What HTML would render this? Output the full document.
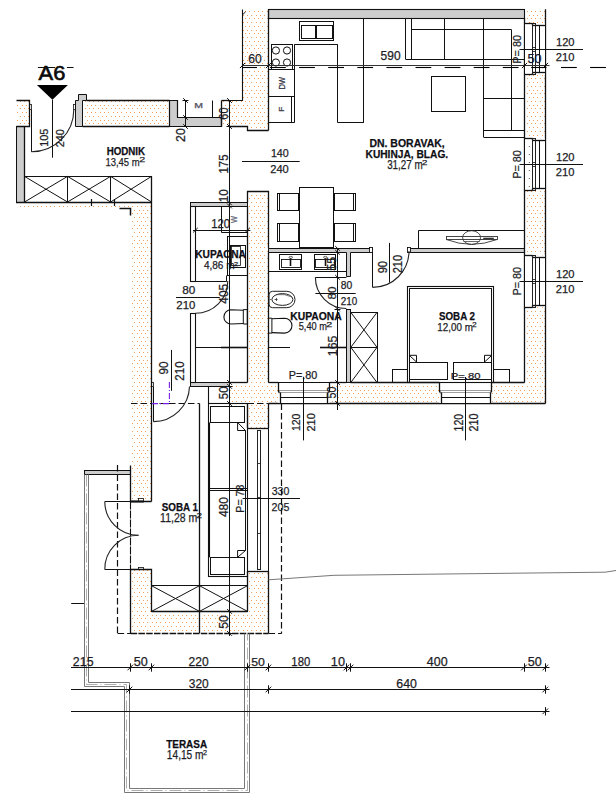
<!DOCTYPE html><html><head><meta charset="utf-8"><title>Floor plan</title>
<style>html,body{margin:0;padding:0;background:#fff;}svg{display:block}text{font-family:"Liberation Sans",sans-serif;}</style></head><body>
<svg width="616" height="802" viewBox="0 0 616 802">
<defs><pattern id="dots" x="0" y="0" width="13" height="15" patternUnits="userSpaceOnUse"><rect x="2" y="3" width="1" height="1" fill="#f4a05a"/><rect x="7" y="3" width="1" height="1" fill="#f4a05a"/><rect x="11" y="3" width="1" height="1" fill="#f4a05a"/><rect x="2" y="11" width="1" height="1" fill="#f4a05a"/><rect x="7" y="11" width="1" height="1" fill="#f4a05a"/><rect x="11" y="11" width="1" height="1" fill="#f4a05a"/><rect x="0" y="0" width="1" height="1" fill="#f4a05a"/><rect x="4" y="0" width="1" height="1" fill="#f4a05a"/><rect x="9" y="0" width="1" height="1" fill="#f4a05a"/><rect x="0" y="7" width="1" height="1" fill="#f4a05a"/><rect x="4" y="7" width="1" height="1" fill="#f4a05a"/><rect x="9" y="7" width="1" height="1" fill="#f4a05a"/></pattern></defs>
<rect x="0" y="0" width="616" height="802" fill="#fff"/>
<rect x="16.5" y="100.5" width="13.0" height="26.0" fill="url(#dots)"/>
<rect x="82.5" y="100.5" width="87.0" height="26.0" fill="url(#dots)"/>
<rect x="221.5" y="100.5" width="8.0" height="26.0" fill="url(#dots)"/>
<polygon points="242.5,10 268.5,10 268.5,130.5 247.5,130.5 247.5,126.5 229.5,126.5 229.5,100.5 242.5,100.5" fill="url(#dots)"/>
<rect x="17" y="203" width="114" height="5.5" fill="url(#dots)"/>
<rect x="131" y="203" width="20.5" height="298.5" fill="url(#dots)"/>
<rect x="131" y="569.6" width="20.5" height="63.6" fill="url(#dots)"/>
<rect x="131" y="611.4" width="137.5" height="21.8" fill="url(#dots)"/>
<rect x="247.5" y="191.5" width="21.0" height="236.5" fill="url(#dots)"/>
<rect x="247.5" y="571" width="21.0" height="62.2" fill="url(#dots)"/>
<rect x="229.5" y="386" width="18.0" height="17.5" fill="url(#dots)"/>
<rect x="268.5" y="382.5" width="9.9" height="21.0" fill="url(#dots)"/>
<rect x="329.4" y="382.5" width="110.1" height="21.0" fill="url(#dots)"/>
<rect x="491.4" y="382.5" width="54.1" height="21.0" fill="url(#dots)"/>
<rect x="524.5" y="10" width="21.0" height="14" fill="url(#dots)"/>
<rect x="524.5" y="74" width="21.0" height="65" fill="url(#dots)"/>
<rect x="524.5" y="190" width="21.0" height="66" fill="url(#dots)"/>
<rect x="524.5" y="306" width="21.0" height="77" fill="url(#dots)"/>
<rect x="268.5" y="9.5" width="256.0" height="9.0" stroke="#111" stroke-width="1.1" fill="#cdcdcd" />
<rect x="190.5" y="202.5" width="57.0" height="4.0" stroke="#111" stroke-width="1" fill="#cdcdcd" />
<polygon points="268.5,248.5 372.5,248.5 372.5,252.5 350.5,252.5 350.5,276.5 346.5,276.5 346.5,252.5 268.5,252.5" stroke="#111" stroke-width="1" fill="#cdcdcd" />
<rect x="408.5" y="248.5" width="116.0" height="4.0" stroke="#111" stroke-width="1" fill="#cdcdcd" />
<rect x="346.5" y="309.5" width="4.0" height="73.0" stroke="#111" stroke-width="1" fill="#cdcdcd" />
<rect x="190.5" y="382.5" width="39.0" height="4.0" stroke="#111" stroke-width="1" fill="#cdcdcd" />
<rect x="16.5" y="126.5" width="8.0" height="76.0" stroke="#111" stroke-width="1" fill="#cdcdcd" />
<rect x="84.5" y="470.5" width="46.0" height="4.0" stroke="#111" stroke-width="1" fill="#cdcdcd" />
<polygon points="169.5,100.5 177.5,100.5 177.5,117.5 221.5,117.5 221.5,126.5 169.5,126.5" stroke="#111" stroke-width="1.2" fill="#cdcdcd" />
<polygon points="78.5,94.5 86.5,94.5 86.5,100.5 82.5,100.5 82.5,126.5 75.5,126.5 75.5,100.5 78.5,100.5" stroke="#111" stroke-width="1" fill="#cdcdcd" />
<rect x="369.5" y="247.5" width="3.0" height="5.0" stroke="#111" stroke-width="0.9" fill="#fff" />
<rect x="407.5" y="247.5" width="3.0" height="5.0" stroke="#111" stroke-width="0.9" fill="#fff" />
<polyline points="16.5,100.5 29.5,100.5 29.5,126.5 16.5,126.5" stroke="#111" stroke-width="1.3" fill="none" />
<line x1="86.5" y1="100.5" x2="169.5" y2="100.5" stroke="#111" stroke-width="1.3" />
<line x1="82.5" y1="126.5" x2="169.5" y2="126.5" stroke="#111" stroke-width="1.3" />
<line x1="221.5" y1="100.5" x2="221.5" y2="126.5" stroke="#111" stroke-width="1.3" />
<line x1="221.5" y1="100.5" x2="229.5" y2="100.5" stroke="#111" stroke-width="1.3" />
<polyline points="242.5,9.5 242.5,100.5 229.5,100.5" stroke="#111" stroke-width="1.1" fill="none" />
<line x1="242.5" y1="14.8" x2="245.6" y2="11.8" stroke="#111" stroke-width="1" />
<polyline points="229.5,126.5 247.5,126.5 247.5,130.5 268.5,130.5" stroke="#111" stroke-width="1.3" fill="none" />
<line x1="268.5" y1="9.5" x2="268.5" y2="130.5" stroke="#111" stroke-width="1.3" />
<line x1="16" y1="202.5" x2="152" y2="202.5" stroke="#111" stroke-width="1.3" />
<rect x="24.5" y="176.5" width="43.0" height="26.0" stroke="#111" stroke-width="1" fill="none" />
<line x1="24.5" y1="176.4" x2="67.5" y2="202" stroke="#111" stroke-width="1" />
<line x1="24.5" y1="202" x2="67.5" y2="176.4" stroke="#111" stroke-width="1" />
<rect x="67.5" y="176.5" width="43.0" height="26.0" stroke="#111" stroke-width="1" fill="none" />
<line x1="67.5" y1="176.4" x2="110.6" y2="202" stroke="#111" stroke-width="1" />
<line x1="67.5" y1="202" x2="110.6" y2="176.4" stroke="#111" stroke-width="1" />
<rect x="110.5" y="176.5" width="41.0" height="26.0" stroke="#111" stroke-width="1" fill="none" />
<line x1="110.6" y1="176.4" x2="151.5" y2="202" stroke="#111" stroke-width="1" />
<line x1="110.6" y1="202" x2="151.5" y2="176.4" stroke="#111" stroke-width="1" />
<line x1="24.5" y1="126.5" x2="24.5" y2="202" stroke="#111" stroke-width="1.3" />
<polyline points="119.5,208.5 130.5,208.5 130.5,215.5" stroke="#111" stroke-width="1.5" fill="none" />
<line x1="91.5" y1="199" x2="91.5" y2="206" stroke="#111" stroke-width="1.2" />
<line x1="114.5" y1="199" x2="114.5" y2="206" stroke="#111" stroke-width="1.2" />
<line x1="151.5" y1="176.4" x2="151.5" y2="501.5" stroke="#111" stroke-width="1.3" />
<polyline points="130.5,465.5 130.5,501.5 151.5,501.5" stroke="#111" stroke-width="1.3" fill="none" />
<line x1="130.5" y1="501.5" x2="130.5" y2="569.6" stroke="#111" stroke-width="1.1" stroke-dasharray="8,1"/>
<line x1="130.6" y1="501.5" x2="143.9" y2="501.5" stroke="#111" stroke-width="2" />
<polyline points="130.5,633.5 130.5,569.5 151.5,569.5 151.5,611.5" stroke="#111" stroke-width="1.3" fill="none" />
<rect x="138.5" y="498.5" width="5.0" height="3.0" stroke="#111" stroke-width="0.8" fill="none" />
<rect x="138.5" y="567.5" width="5.0" height="2.0" stroke="#111" stroke-width="0.8" fill="none" />
<polyline points="247.5,202.5 247.5,191.5 268.5,191.5 268.5,248.5" stroke="#111" stroke-width="1.3" fill="none" />
<line x1="247.5" y1="206" x2="247.5" y2="382.5" stroke="#111" stroke-width="1.3" />
<line x1="268.5" y1="252.3" x2="268.5" y2="382.5" stroke="#111" stroke-width="1.3" />
<line x1="247.5" y1="403.5" x2="247.5" y2="428" stroke="#111" stroke-width="1.3" />
<line x1="268.5" y1="403.5" x2="268.5" y2="428" stroke="#111" stroke-width="1.3" />
<line x1="247.5" y1="571" x2="247.5" y2="611.4" stroke="#111" stroke-width="1.3" />
<line x1="268.5" y1="571" x2="268.5" y2="633.2" stroke="#111" stroke-width="1.3" />
<line x1="247.5" y1="428.5" x2="268.5" y2="428.5" stroke="#111" stroke-width="1.3" />
<line x1="247.5" y1="571.5" x2="268.5" y2="571.5" stroke="#111" stroke-width="1.3" />
<line x1="247.5" y1="428" x2="247.5" y2="571" stroke="#111" stroke-width="1" />
<line x1="268.5" y1="428" x2="268.5" y2="571" stroke="#111" stroke-width="1" />
<rect x="257.5" y="430.5" width="3.0" height="139.0" stroke="#222" stroke-width="1" fill="none" />
<line x1="257.6" y1="463.5" x2="260.2" y2="463.5" stroke="#111" stroke-width="0.8" />
<line x1="257.6" y1="497.5" x2="260.2" y2="497.5" stroke="#111" stroke-width="0.8" />
<line x1="257.6" y1="533.5" x2="260.2" y2="533.5" stroke="#111" stroke-width="0.8" />
<line x1="151.5" y1="611.5" x2="247.5" y2="611.5" stroke="#111" stroke-width="1.3" />
<line x1="130.6" y1="633.5" x2="268.5" y2="633.5" stroke="#111" stroke-width="1.3" stroke-dasharray="6.5,1.3"/>
<line x1="199.5" y1="403.5" x2="199.5" y2="633.2" stroke="#111" stroke-width="1.3" />
<line x1="229.5" y1="382.5" x2="247.5" y2="382.5" stroke="#111" stroke-width="1.3" />
<line x1="268.5" y1="382.5" x2="278.4" y2="382.5" stroke="#111" stroke-width="1.3" />
<line x1="268.5" y1="382.5" x2="346.4" y2="382.5" stroke="#111" stroke-width="1" />
<line x1="329.4" y1="382.5" x2="346.4" y2="382.5" stroke="#111" stroke-width="1.3" />
<line x1="350.5" y1="382.5" x2="439.5" y2="382.5" stroke="#111" stroke-width="1.3" />
<line x1="491.4" y1="382.5" x2="524.5" y2="382.5" stroke="#111" stroke-width="1.3" />
<line x1="268.5" y1="403.5" x2="545.5" y2="403.5" stroke="#111" stroke-width="1.3" />
<line x1="131" y1="403.5" x2="199.5" y2="403.5" stroke="#111" stroke-width="1.2" stroke-dasharray="6.5,3"/>
<line x1="247.5" y1="403.5" x2="268.5" y2="403.5" stroke="#111" stroke-width="1.2" stroke-dasharray="6.5,3"/>
<line x1="545.5" y1="9.2" x2="545.5" y2="403.5" stroke="#111" stroke-width="1.3" />
<line x1="524.5" y1="18.3" x2="524.5" y2="382.5" stroke="#111" stroke-width="1.3" />
<rect x="525" y="23.5" width="20" height="51.3" fill="#fff"/>
<line x1="524.5" y1="23.5" x2="532.8" y2="23.5" stroke="#111" stroke-width="1.3" />
<line x1="532.5" y1="23.5" x2="532.5" y2="25.5" stroke="#111" stroke-width="1.3" />
<line x1="532.8" y1="25.5" x2="545.5" y2="25.5" stroke="#111" stroke-width="1.3" />
<line x1="524.5" y1="74.5" x2="532.8" y2="74.5" stroke="#111" stroke-width="1.3" />
<line x1="532.5" y1="74.8" x2="532.5" y2="72.8" stroke="#111" stroke-width="1.3" />
<line x1="532.8" y1="72.5" x2="545.5" y2="72.5" stroke="#111" stroke-width="1.3" />
<rect x="532.5" y="23.5" width="3.0" height="51.0" stroke="#222" stroke-width="1" fill="none" />
<line x1="532.6" y1="47.5" x2="535.3" y2="47.5" stroke="#111" stroke-width="0.8" />
<line x1="532.6" y1="51.5" x2="535.3" y2="51.5" stroke="#111" stroke-width="0.8" />
<line x1="539.5" y1="25.5" x2="539.5" y2="72.8" stroke="#111" stroke-width="1" />
<line x1="524.5" y1="23.5" x2="524.5" y2="74.8" stroke="#111" stroke-width="1" />
<line x1="545.5" y1="23.5" x2="545.5" y2="74.8" stroke="#111" stroke-width="1" />
<rect x="525" y="138.2" width="20" height="52.3" fill="#fff"/>
<line x1="524.5" y1="138.5" x2="532.8" y2="138.5" stroke="#111" stroke-width="1.3" />
<line x1="532.5" y1="138.2" x2="532.5" y2="140.2" stroke="#111" stroke-width="1.3" />
<line x1="532.8" y1="140.5" x2="545.5" y2="140.5" stroke="#111" stroke-width="1.3" />
<line x1="524.5" y1="190.5" x2="532.8" y2="190.5" stroke="#111" stroke-width="1.3" />
<line x1="532.5" y1="190.5" x2="532.5" y2="188.5" stroke="#111" stroke-width="1.3" />
<line x1="532.8" y1="188.5" x2="545.5" y2="188.5" stroke="#111" stroke-width="1.3" />
<rect x="532.5" y="138.5" width="3.0" height="52.0" stroke="#222" stroke-width="1" fill="none" />
<line x1="532.6" y1="162.5" x2="535.3" y2="162.5" stroke="#111" stroke-width="0.8" />
<line x1="532.6" y1="166.5" x2="535.3" y2="166.5" stroke="#111" stroke-width="0.8" />
<line x1="539.5" y1="140.2" x2="539.5" y2="188.5" stroke="#111" stroke-width="1" />
<line x1="524.5" y1="138.2" x2="524.5" y2="190.5" stroke="#111" stroke-width="1" />
<line x1="545.5" y1="138.2" x2="545.5" y2="190.5" stroke="#111" stroke-width="1" />
<rect x="525" y="255.3" width="20" height="52.0" fill="#fff"/>
<line x1="524.5" y1="255.5" x2="532.8" y2="255.5" stroke="#111" stroke-width="1.3" />
<line x1="532.5" y1="255.3" x2="532.5" y2="257.3" stroke="#111" stroke-width="1.3" />
<line x1="532.8" y1="257.5" x2="545.5" y2="257.5" stroke="#111" stroke-width="1.3" />
<line x1="524.5" y1="307.5" x2="532.8" y2="307.5" stroke="#111" stroke-width="1.3" />
<line x1="532.5" y1="307.3" x2="532.5" y2="305.3" stroke="#111" stroke-width="1.3" />
<line x1="532.8" y1="305.5" x2="545.5" y2="305.5" stroke="#111" stroke-width="1.3" />
<rect x="532.5" y="255.5" width="3.0" height="52.0" stroke="#222" stroke-width="1" fill="none" />
<line x1="532.6" y1="279.5" x2="535.3" y2="279.5" stroke="#111" stroke-width="0.8" />
<line x1="532.6" y1="283.5" x2="535.3" y2="283.5" stroke="#111" stroke-width="0.8" />
<line x1="539.5" y1="257.3" x2="539.5" y2="305.3" stroke="#111" stroke-width="1" />
<line x1="524.5" y1="255.3" x2="524.5" y2="307.3" stroke="#111" stroke-width="1" />
<line x1="545.5" y1="255.3" x2="545.5" y2="307.3" stroke="#111" stroke-width="1" />
<rect x="528.8" y="146" width="1.0" height="1" fill="#555"/>
<rect x="528.8" y="154" width="1.0" height="1" fill="#555"/>
<rect x="528.8" y="162" width="1.0" height="1" fill="#555"/>
<rect x="528.8" y="170" width="1.0" height="1" fill="#555"/>
<rect x="528.8" y="178" width="1.0" height="1" fill="#555"/>
<rect x="528.8" y="186" width="1.0" height="1" fill="#555"/>
<rect x="278.4" y="383" width="51.0" height="20" fill="#fff"/>
<line x1="278.5" y1="382.5" x2="278.5" y2="392" stroke="#111" stroke-width="1.3" />
<line x1="278.4" y1="392.5" x2="280.2" y2="392.5" stroke="#111" stroke-width="1.3" />
<line x1="280.5" y1="392" x2="280.5" y2="403.5" stroke="#111" stroke-width="1.3" />
<line x1="329.5" y1="382.5" x2="329.5" y2="392" stroke="#111" stroke-width="1.3" />
<line x1="329.4" y1="392.5" x2="327.4" y2="392.5" stroke="#111" stroke-width="1.3" />
<line x1="327.5" y1="392" x2="327.5" y2="403.5" stroke="#111" stroke-width="1.3" />
<line x1="278.4" y1="382.5" x2="329.4" y2="382.5" stroke="#111" stroke-width="1" />
<rect x="279.5" y="390.5" width="49.0" height="2.0" stroke="#777" stroke-width="0.7" fill="none" />
<line x1="280.2" y1="397.5" x2="327.4" y2="397.5" stroke="#111" stroke-width="1.2" />
<line x1="280.2" y1="403.5" x2="327.4" y2="403.5" stroke="#111" stroke-width="1" />
<rect x="439.5" y="383" width="51.9" height="20" fill="#fff"/>
<line x1="439.5" y1="382.5" x2="439.5" y2="392" stroke="#111" stroke-width="1.3" />
<line x1="439.5" y1="392.5" x2="441" y2="392.5" stroke="#111" stroke-width="1.3" />
<line x1="441.5" y1="392" x2="441.5" y2="403.5" stroke="#111" stroke-width="1.3" />
<line x1="491.5" y1="382.5" x2="491.5" y2="392" stroke="#111" stroke-width="1.3" />
<line x1="491.4" y1="392.5" x2="490" y2="392.5" stroke="#111" stroke-width="1.3" />
<line x1="490.5" y1="392" x2="490.5" y2="403.5" stroke="#111" stroke-width="1.3" />
<line x1="439.5" y1="382.5" x2="491.4" y2="382.5" stroke="#111" stroke-width="1" />
<rect x="440.5" y="390.5" width="50.0" height="2.0" stroke="#777" stroke-width="0.7" fill="none" />
<line x1="441" y1="397.5" x2="490" y2="397.5" stroke="#111" stroke-width="1.2" />
<line x1="441" y1="403.5" x2="490" y2="403.5" stroke="#111" stroke-width="1" />
<text x="38.56" y="79.80" font-size="20.39" fill="#0a0a0a" stroke="#0a0a0a" stroke-width="0.6" textLength="26.81" lengthAdjust="spacingAndGlyphs">A6</text>
<line x1="37.9" y1="67.5" x2="55" y2="67.5" stroke="#111" stroke-width="1" />
<line x1="66.9" y1="67.5" x2="73.6" y2="67.5" stroke="#111" stroke-width="1" />
<polygon points="36.9,85 67.9,85 52.4,99.8" fill="#000"/>
<line x1="52.5" y1="99.8" x2="52.5" y2="157.7" stroke="#111" stroke-width="1" />
<rect x="29.5" y="104.5" width="2.0" height="5.0" stroke="#111" stroke-width="0.8" fill="none" />
<rect x="73.5" y="104.5" width="2.0" height="5.0" stroke="#111" stroke-width="0.8" fill="none" />
<line x1="31.5" y1="109.4" x2="31.5" y2="151.8" stroke="#111" stroke-width="1" />
<path d="M 31.4 151.8 A 42.4 42.4 0 0 0 73.8 109.4" stroke="#222" stroke-width="1.1" fill="none" />
<text transform="translate(47.90,146.00) rotate(-90)" x="-0.83" y="0" font-size="10.89" fill="#1d1d26" stroke="#1d1d26" stroke-width="0.25" textLength="18.19" lengthAdjust="spacingAndGlyphs">105</text>
<text transform="translate(63.90,146.80) rotate(-90)" x="-0.54" y="0" font-size="10.47" fill="#1d1d26" stroke="#1d1d26" stroke-width="0.25" textLength="18.07" lengthAdjust="spacingAndGlyphs">240</text>
<text x="106.65" y="154.80" font-size="10.97" font-weight="bold" fill="#0d0d14" stroke="#0d0d14" stroke-width="0.25" textLength="38.44" lengthAdjust="spacingAndGlyphs">HODNIK</text>
<text x="105.38" y="165.50" font-size="11.59" fill="#1d1d26" stroke="#1d1d26" stroke-width="0.25" textLength="34.25" lengthAdjust="spacingAndGlyphs">13,45 m</text>
<text x="139.16" y="161.70" font-size="7.96" fill="#1d1d26" stroke="#1d1d26" stroke-width="0.25" textLength="5.98" lengthAdjust="spacingAndGlyphs">2</text>
<line x1="185.5" y1="100.5" x2="185.5" y2="126.5" stroke="#111" stroke-width="1" />
<line x1="182.5" y1="100.5" x2="188.5" y2="100.5" stroke="#111" stroke-width="1" />
<line x1="183.2" y1="98.2" x2="187.8" y2="102.8" stroke="#111" stroke-width="1" />
<line x1="182.5" y1="117.5" x2="188.5" y2="117.5" stroke="#111" stroke-width="1" />
<line x1="183.2" y1="115.2" x2="187.8" y2="119.8" stroke="#111" stroke-width="1" />
<line x1="182.5" y1="126.5" x2="188.5" y2="126.5" stroke="#111" stroke-width="1" />
<line x1="183.2" y1="124.2" x2="187.8" y2="128.8" stroke="#111" stroke-width="1" />
<line x1="212.5" y1="100.5" x2="212.5" y2="117.5" stroke="#111" stroke-width="1" />
<text x="194.34" y="108.20" font-size="6.56" fill="#556" stroke="#556" stroke-width="0.25" textLength="8.72" lengthAdjust="spacingAndGlyphs">M</text>
<text transform="translate(184.60,141.30) rotate(-90)" x="-0.62" y="0" font-size="12.01" fill="#1d1d26" stroke="#1d1d26" stroke-width="0.25" textLength="13.70" lengthAdjust="spacingAndGlyphs">20</text>
<text transform="translate(228.40,119.10) rotate(-90)" x="-0.55" y="0" font-size="12.71" fill="#1d1d26" stroke="#1d1d26" stroke-width="0.25" textLength="12.08" lengthAdjust="spacingAndGlyphs">60</text>
<rect x="299.5" y="21.5" width="34.0" height="19.0" stroke="#111" stroke-width="1" fill="none" />
<rect x="301.5" y="25.5" width="14.0" height="13.0" stroke="#111" stroke-width="1" fill="none" />
<rect x="316.5" y="25.5" width="16.0" height="13.0" stroke="#111" stroke-width="1" fill="none" />
<rect x="271.5" y="44.5" width="21.0" height="25.0" stroke="#111" stroke-width="1" fill="none" />
<circle cx="275.9" cy="50.5" r="3.6" stroke="#111" stroke-width="1" fill="none"/>
<circle cx="287" cy="50.5" r="3.6" stroke="#111" stroke-width="1" fill="none"/>
<circle cx="275.9" cy="62.5" r="3.6" stroke="#111" stroke-width="1" fill="none"/>
<circle cx="287" cy="62.5" r="3.6" stroke="#111" stroke-width="1" fill="none"/>
<line x1="294.5" y1="44.3" x2="294.5" y2="122.7" stroke="#111" stroke-width="1" />
<line x1="294.5" y1="44.5" x2="337.7" y2="44.5" stroke="#111" stroke-width="1" />
<line x1="337.5" y1="44.3" x2="337.5" y2="122.7" stroke="#111" stroke-width="1" />
<line x1="337.7" y1="122.5" x2="363.9" y2="122.5" stroke="#111" stroke-width="1" />
<line x1="363.5" y1="18.3" x2="363.5" y2="122.7" stroke="#111" stroke-width="1" />
<line x1="268.5" y1="122.5" x2="294.5" y2="122.5" stroke="#111" stroke-width="1" />
<line x1="268.5" y1="69.5" x2="294.5" y2="69.5" stroke="#111" stroke-width="1" />
<line x1="268.5" y1="96.5" x2="294.5" y2="96.5" stroke="#111" stroke-width="1" />
<line x1="291.5" y1="96" x2="291.5" y2="122.7" stroke="#111" stroke-width="1" />
<text transform="translate(284.60,89.00) rotate(-90)" x="-0.62" y="0" font-size="9.22" fill="#334" stroke="#334" stroke-width="0.25" textLength="12.65" lengthAdjust="spacingAndGlyphs">DW</text>
<text transform="translate(283.80,111.00) rotate(-90)" x="-0.67" y="0" font-size="7.68" fill="#334" stroke="#334" stroke-width="0.25" textLength="5.00" lengthAdjust="spacingAndGlyphs">F</text>
<line x1="405.5" y1="18.3" x2="405.5" y2="59" stroke="#111" stroke-width="1" />
<line x1="405.4" y1="59.5" x2="524.5" y2="59.5" stroke="#111" stroke-width="1" />
<line x1="411.5" y1="18.3" x2="411.5" y2="59" stroke="#111" stroke-width="1" />
<line x1="411.6" y1="29.5" x2="511.6" y2="29.5" stroke="#111" stroke-width="1" />
<line x1="444.5" y1="18.3" x2="444.5" y2="59" stroke="#111" stroke-width="1" />
<line x1="483.5" y1="18.3" x2="483.5" y2="137.4" stroke="#111" stroke-width="1" />
<line x1="511.5" y1="29.8" x2="511.5" y2="130" stroke="#111" stroke-width="1" />
<line x1="483.8" y1="98.5" x2="524.5" y2="98.5" stroke="#111" stroke-width="1" />
<line x1="483.8" y1="130.5" x2="524.5" y2="130.5" stroke="#111" stroke-width="1" />
<line x1="483.8" y1="137.5" x2="524.5" y2="137.5" stroke="#111" stroke-width="1" />
<rect x="431.5" y="76.5" width="34.0" height="35.0" stroke="#111" stroke-width="1" fill="none" />
<line x1="242.5" y1="65.5" x2="549.5" y2="65.5" stroke="#333" stroke-width="1" />
<line x1="242.5" y1="62.0" x2="242.5" y2="69.0" stroke="#111" stroke-width="1" />
<line x1="239.9" y1="68.1" x2="245.1" y2="62.9" stroke="#111" stroke-width="1" />
<line x1="268.5" y1="62.0" x2="268.5" y2="69.0" stroke="#111" stroke-width="1" />
<line x1="265.9" y1="68.1" x2="271.1" y2="62.9" stroke="#111" stroke-width="1" />
<line x1="524.5" y1="62.0" x2="524.5" y2="69.0" stroke="#111" stroke-width="1" />
<line x1="521.9" y1="68.1" x2="527.1" y2="62.9" stroke="#111" stroke-width="1" />
<line x1="545.5" y1="62.0" x2="545.5" y2="69.0" stroke="#111" stroke-width="1" />
<line x1="542.9" y1="68.1" x2="548.1" y2="62.9" stroke="#111" stroke-width="1" />
<line x1="270.0" y1="67.5" x2="285.8" y2="67.5" stroke="#000" stroke-width="1.1" />
<line x1="299.1" y1="67.5" x2="314.90000000000003" y2="67.5" stroke="#000" stroke-width="1.1" />
<line x1="328.20000000000005" y1="67.5" x2="344.00000000000006" y2="67.5" stroke="#000" stroke-width="1.1" />
<line x1="357.30000000000007" y1="67.5" x2="373.1000000000001" y2="67.5" stroke="#000" stroke-width="1.1" />
<line x1="386.4000000000001" y1="67.5" x2="402.2000000000001" y2="67.5" stroke="#000" stroke-width="1.1" />
<line x1="415.5000000000001" y1="67.5" x2="431.3000000000001" y2="67.5" stroke="#000" stroke-width="1.1" />
<line x1="444.60000000000014" y1="67.5" x2="460.40000000000015" y2="67.5" stroke="#000" stroke-width="1.1" />
<line x1="473.70000000000016" y1="67.5" x2="489.50000000000017" y2="67.5" stroke="#000" stroke-width="1.1" />
<line x1="502.8000000000002" y1="67.5" x2="518.6000000000001" y2="67.5" stroke="#000" stroke-width="1.1" />
<line x1="561.0000000000002" y1="67.5" x2="576.8000000000002" y2="67.5" stroke="#000" stroke-width="1.1" />
<line x1="590.1000000000003" y1="67.5" x2="605.9000000000002" y2="67.5" stroke="#000" stroke-width="1.1" />
<line x1="242.5" y1="67.5" x2="257" y2="67.5" stroke="#000" stroke-width="1.1" />
<line x1="531.2" y1="67.5" x2="546.4" y2="67.5" stroke="#000" stroke-width="1.1" />
<text x="248.38" y="63.20" font-size="12.01" fill="#1d1d26" stroke="#1d1d26" stroke-width="0.25" textLength="13.49" lengthAdjust="spacingAndGlyphs">60</text>
<text x="380.62" y="59.90" font-size="12.15" fill="#1d1d26" stroke="#1d1d26" stroke-width="0.25" textLength="19.95" lengthAdjust="spacingAndGlyphs">590</text>
<text x="527.60" y="62.80" font-size="12.29" fill="#141428" stroke="#141428" stroke-width="0.25" textLength="14.00" lengthAdjust="spacingAndGlyphs">50</text>
<line x1="519.5" y1="49.5" x2="583" y2="49.5" stroke="#111" stroke-width="1" />
<text x="555.95" y="45.90" font-size="11.17" fill="#1d1d26" stroke="#1d1d26" stroke-width="0.25" textLength="18.58" lengthAdjust="spacingAndGlyphs">120</text>
<text x="555.84" y="60.80" font-size="10.89" fill="#1d1d26" stroke="#1d1d26" stroke-width="0.25" textLength="18.60" lengthAdjust="spacingAndGlyphs">210</text>
<text transform="translate(521.30,62.80) rotate(-90)" x="-0.89" y="0" font-size="10.89" fill="#1d1d26" stroke="#1d1d26" stroke-width="0.25" textLength="28.61" lengthAdjust="spacingAndGlyphs">P= 80</text>
<line x1="519.5" y1="164.5" x2="583" y2="164.5" stroke="#111" stroke-width="1" />
<text x="555.95" y="161.00" font-size="11.17" fill="#1d1d26" stroke="#1d1d26" stroke-width="0.25" textLength="18.58" lengthAdjust="spacingAndGlyphs">120</text>
<text x="555.84" y="175.90" font-size="10.89" fill="#1d1d26" stroke="#1d1d26" stroke-width="0.25" textLength="18.60" lengthAdjust="spacingAndGlyphs">210</text>
<text transform="translate(521.30,177.90) rotate(-90)" x="-0.89" y="0" font-size="10.89" fill="#1d1d26" stroke="#1d1d26" stroke-width="0.25" textLength="28.61" lengthAdjust="spacingAndGlyphs">P= 80</text>
<line x1="519.5" y1="281.5" x2="583" y2="281.5" stroke="#111" stroke-width="1" />
<text x="555.95" y="277.70" font-size="11.17" fill="#1d1d26" stroke="#1d1d26" stroke-width="0.25" textLength="18.58" lengthAdjust="spacingAndGlyphs">120</text>
<text x="555.84" y="292.60" font-size="10.89" fill="#1d1d26" stroke="#1d1d26" stroke-width="0.25" textLength="18.60" lengthAdjust="spacingAndGlyphs">210</text>
<text transform="translate(521.30,294.60) rotate(-90)" x="-0.89" y="0" font-size="10.89" fill="#1d1d26" stroke="#1d1d26" stroke-width="0.25" textLength="28.61" lengthAdjust="spacingAndGlyphs">P= 80</text>
<text x="369.41" y="146.80" font-size="11.80" font-weight="bold" fill="#0d0d14" stroke="#0d0d14" stroke-width="0.25" textLength="75.27" lengthAdjust="spacingAndGlyphs">DN. BORAVAK,</text>
<text x="365.52" y="157.70" font-size="11.80" font-weight="bold" fill="#0d0d14" stroke="#0d0d14" stroke-width="0.25" textLength="82.68" lengthAdjust="spacingAndGlyphs">KUHINJA, BLAG.</text>
<text x="387.13" y="168.60" font-size="11.87" fill="#1d1d26" stroke="#1d1d26" stroke-width="0.25" textLength="35.52" lengthAdjust="spacingAndGlyphs">31,27 m</text>
<text x="421.91" y="164.80" font-size="7.40" fill="#1d1d26" stroke="#1d1d26" stroke-width="0.25" textLength="5.37" lengthAdjust="spacingAndGlyphs">2</text>
<line x1="242" y1="161.5" x2="299.7" y2="161.5" stroke="#111" stroke-width="1" />
<text x="270.89" y="157.00" font-size="10.89" fill="#1d1d26" stroke="#1d1d26" stroke-width="0.25" textLength="17.83" lengthAdjust="spacingAndGlyphs">140</text>
<text x="270.24" y="172.90" font-size="10.34" fill="#1d1d26" stroke="#1d1d26" stroke-width="0.25" textLength="18.49" lengthAdjust="spacingAndGlyphs">240</text>
<line x1="229.5" y1="100.5" x2="229.5" y2="636" stroke="#111" stroke-width="1" />
<line x1="226.5" y1="100.5" x2="232.5" y2="100.5" stroke="#111" stroke-width="1" />
<line x1="227.1" y1="98.1" x2="231.9" y2="102.9" stroke="#111" stroke-width="1" />
<line x1="226.5" y1="126.5" x2="232.5" y2="126.5" stroke="#111" stroke-width="1" />
<line x1="227.1" y1="124.1" x2="231.9" y2="128.9" stroke="#111" stroke-width="1" />
<line x1="226.5" y1="202.5" x2="232.5" y2="202.5" stroke="#111" stroke-width="1" />
<line x1="227.1" y1="200.5" x2="231.9" y2="205.3" stroke="#111" stroke-width="1" />
<line x1="226.5" y1="206.5" x2="232.5" y2="206.5" stroke="#111" stroke-width="1" />
<line x1="227.1" y1="203.6" x2="231.9" y2="208.4" stroke="#111" stroke-width="1" />
<line x1="226.5" y1="382.5" x2="232.5" y2="382.5" stroke="#111" stroke-width="1" />
<line x1="227.1" y1="380.0" x2="231.9" y2="384.79999999999995" stroke="#111" stroke-width="1" />
<line x1="226.5" y1="386.5" x2="232.5" y2="386.5" stroke="#111" stroke-width="1" />
<line x1="227.1" y1="383.90000000000003" x2="231.9" y2="388.7" stroke="#111" stroke-width="1" />
<line x1="226.5" y1="403.5" x2="232.5" y2="403.5" stroke="#111" stroke-width="1" />
<line x1="227.1" y1="401.1" x2="231.9" y2="405.9" stroke="#111" stroke-width="1" />
<line x1="226.5" y1="611.5" x2="232.5" y2="611.5" stroke="#111" stroke-width="1" />
<line x1="227.1" y1="609.0" x2="231.9" y2="613.8" stroke="#111" stroke-width="1" />
<line x1="226.5" y1="633.5" x2="232.5" y2="633.5" stroke="#111" stroke-width="1" />
<line x1="227.1" y1="631.0" x2="231.9" y2="635.8" stroke="#111" stroke-width="1" />
<text transform="translate(228.10,172.70) rotate(-90)" x="-0.87" y="0" font-size="11.87" fill="#1d1d26" stroke="#1d1d26" stroke-width="0.25" textLength="19.05" lengthAdjust="spacingAndGlyphs">175</text>
<text transform="translate(228.10,201.30) rotate(-90)" x="-0.89" y="0" font-size="11.87" fill="#1d1d26" stroke="#1d1d26" stroke-width="0.25" textLength="13.05" lengthAdjust="spacingAndGlyphs">10</text>
<text transform="translate(228.00,303.40) rotate(-90)" x="-0.27" y="0" font-size="12.15" fill="#1d1d26" stroke="#1d1d26" stroke-width="0.25" textLength="19.77" lengthAdjust="spacingAndGlyphs">405</text>
<text transform="translate(228.40,398.70) rotate(-90)" x="-0.46" y="0" font-size="12.99" fill="#1d1d26" stroke="#1d1d26" stroke-width="0.25" textLength="12.70" lengthAdjust="spacingAndGlyphs">50</text>
<text transform="translate(228.10,516.80) rotate(-90)" x="-0.28" y="0" font-size="12.71" fill="#1d1d26" stroke="#1d1d26" stroke-width="0.25" textLength="20.05" lengthAdjust="spacingAndGlyphs">480</text>
<text transform="translate(228.20,628.30) rotate(-90)" x="-0.49" y="0" font-size="12.15" fill="#1d1d26" stroke="#1d1d26" stroke-width="0.25" textLength="13.56" lengthAdjust="spacingAndGlyphs">50</text>
<rect x="299.5" y="187.5" width="34.0" height="60.0" stroke="#111" stroke-width="1" fill="none" />
<rect x="277.5" y="193.5" width="21.0" height="17.0" stroke="#111" stroke-width="1" fill="none" />
<line x1="279.5" y1="193.6" x2="279.5" y2="210.5" stroke="#111" stroke-width="1" />
<rect x="277.5" y="223.5" width="21.0" height="18.0" stroke="#111" stroke-width="1" fill="none" />
<line x1="279.5" y1="223.6" x2="279.5" y2="241.5" stroke="#111" stroke-width="1" />
<rect x="334.5" y="193.5" width="21.0" height="17.0" stroke="#111" stroke-width="1" fill="none" />
<line x1="353.5" y1="193.6" x2="353.5" y2="210.5" stroke="#111" stroke-width="1" />
<rect x="334.5" y="223.5" width="21.0" height="18.0" stroke="#111" stroke-width="1" fill="none" />
<line x1="353.5" y1="223.6" x2="353.5" y2="241.5" stroke="#111" stroke-width="1" />
<rect x="190.5" y="206.5" width="5.0" height="75.0" stroke="#111" stroke-width="1.1" fill="#fff" />
<rect x="190.5" y="313.5" width="5.0" height="69.0" stroke="#111" stroke-width="1.1" fill="#fff" />
<polyline points="221.5,206.5 221.5,232.5 247.5,232.5" stroke="#111" stroke-width="1" fill="none" />
<text transform="translate(236.80,222.90) rotate(-90)" x="-0.03" y="0" font-size="8.24" fill="#667" stroke="#667" stroke-width="0.25" textLength="6.96" lengthAdjust="spacingAndGlyphs">W</text>
<line x1="193" y1="230.5" x2="250.4" y2="230.5" stroke="#111" stroke-width="1" />
<line x1="195.5" y1="227.6" x2="195.5" y2="232.6" stroke="#111" stroke-width="1" />
<line x1="193.2" y1="232.4" x2="197.8" y2="227.79999999999998" stroke="#111" stroke-width="1" />
<line x1="247.5" y1="227.6" x2="247.5" y2="232.6" stroke="#111" stroke-width="1" />
<line x1="245.2" y1="232.4" x2="249.8" y2="227.79999999999998" stroke="#111" stroke-width="1" />
<text x="211.14" y="228.10" font-size="12.15" fill="#1d1d26" stroke="#1d1d26" stroke-width="0.25" textLength="18.80" lengthAdjust="spacingAndGlyphs">120</text>
<rect x="227.5" y="236.5" width="20.0" height="39.0" stroke="#111" stroke-width="1" fill="none" />
<rect x="230.5" y="245.5" width="15.0" height="22.0" stroke="#111" stroke-width="1" fill="none" />
<rect x="231.5" y="246.5" width="9.0" height="19.0" stroke="#111" stroke-width="0.8" fill="none" />
<line x1="190.5" y1="281.5" x2="226.8" y2="281.5" stroke="#111" stroke-width="1" />
<line x1="226.5" y1="275.5" x2="226.5" y2="281" stroke="#111" stroke-width="1" />
<path d="M 227.8 281 A 32.3 32.3 0 0 1 195.5 313.3" stroke="#222" stroke-width="1.1" fill="none" />
<text x="182.29" y="293.60" font-size="10.20" fill="#1d1d26" stroke="#1d1d26" stroke-width="0.25" textLength="13.07" lengthAdjust="spacingAndGlyphs">80</text>
<line x1="176" y1="297.5" x2="219.8" y2="297.5" stroke="#111" stroke-width="1" />
<text x="176.33" y="308.70" font-size="10.89" fill="#1d1d26" stroke="#1d1d26" stroke-width="0.25" textLength="19.02" lengthAdjust="spacingAndGlyphs">210</text>
<path d="M 243.3 309.6 L 247.3 309.6 L 247.3 324 L 243.3 324 Z" stroke="#111" stroke-width="1" fill="none" />
<path d="M 243.3 310.3 L 231 309.8 A 7.1 7.1 0 0 0 231 324 L 243.3 323.5" stroke="#111" stroke-width="1.1" fill="none" />
<line x1="195.5" y1="347.5" x2="247.5" y2="347.5" stroke="#111" stroke-width="1" />
<line x1="221" y1="347.5" x2="247.5" y2="347.5" stroke="#111" stroke-width="1.6" />
<text x="195.23" y="257.60" font-size="11.11" font-weight="bold" fill="#0d0d14" stroke="#0d0d14" stroke-width="0.25" textLength="50.63" lengthAdjust="spacingAndGlyphs">KUPAONA</text>
<text x="203.97" y="269.20" font-size="10.47" fill="#1d1d26" stroke="#1d1d26" stroke-width="0.25" textLength="30.59" lengthAdjust="spacingAndGlyphs">4,86 m</text>
<text x="234.02" y="265.60" font-size="6.15" fill="#1d1d26" stroke="#1d1d26" stroke-width="0.25" textLength="4.15" lengthAdjust="spacingAndGlyphs">2</text>
<line x1="268.5" y1="271.5" x2="346.4" y2="271.5" stroke="#111" stroke-width="1" />
<rect x="279.5" y="254.5" width="22.0" height="15.0" stroke="#111" stroke-width="1" fill="none" />
<rect x="281.5" y="259.5" width="19.0" height="8.0" stroke="#111" stroke-width="0.9" fill="none" />
<line x1="290.5" y1="258" x2="290.5" y2="266" stroke="#111" stroke-width="1.6" />
<ellipse cx="290.85" cy="257.3" rx="1.8" ry="1" stroke="#333" stroke-width="0.7" fill="#fff"/>
<rect x="314.5" y="254.5" width="21.0" height="15.0" stroke="#111" stroke-width="1" fill="none" />
<rect x="315.5" y="259.5" width="19.0" height="8.0" stroke="#111" stroke-width="0.9" fill="none" />
<line x1="325.5" y1="258" x2="325.5" y2="266" stroke="#111" stroke-width="1.6" />
<ellipse cx="325.25" cy="257.3" rx="1.8" ry="1" stroke="#333" stroke-width="0.7" fill="#fff"/>
<path d="M 272.5 291.3 L 286.8 291.3 A 8.2 8.2 0 0 1 286.8 307.7 L 272.5 307.7 Q 269 307.7 269 304.2 L 269 294.8 Q 269 291.3 272.5 291.3 Z" stroke="#222" stroke-width="1" fill="none" />
<ellipse cx="282.4" cy="299.5" rx="10.5" ry="5.9" stroke="#222" stroke-width="1" fill="none"/>
<path d="M 276 294.6 Q 285 293.6 292 297" stroke="#444" stroke-width="0.7" fill="none" />
<line x1="274.6" y1="299.5" x2="277.6" y2="299.5" stroke="#444" stroke-width="0.9" />
<line x1="276.5" y1="298" x2="276.5" y2="301" stroke="#444" stroke-width="0.9" />
<line x1="270.2" y1="299.5" x2="271.2" y2="299.5" stroke="#444" stroke-width="0.9" />
<path d="M 268.5 318.2 L 271.9 318.2 L 271.9 333.1 L 268.5 333.1 Z" stroke="#111" stroke-width="1" fill="none" />
<path d="M 271.9 318.8 L 284.5 318.2 A 7.45 7.45 0 0 1 284.5 333.1 L 271.9 332.6" stroke="#111" stroke-width="1.1" fill="none" />
<line x1="268.5" y1="347.5" x2="290" y2="347.5" stroke="#111" stroke-width="1" />
<line x1="320" y1="347.5" x2="346.4" y2="347.5" stroke="#111" stroke-width="1.6" />
<line x1="315.4" y1="277.5" x2="346.4" y2="277.5" stroke="#111" stroke-width="1" />
<path d="M 315.4 277.3 A 31 31 0 0 0 346.4 308.5" stroke="#222" stroke-width="1.1" fill="none" />
<line x1="315.4" y1="293.5" x2="355.7" y2="293.5" stroke="#111" stroke-width="1" />
<text x="340.85" y="288.70" font-size="10.20" fill="#1d1d26" stroke="#1d1d26" stroke-width="0.25" textLength="11.45" lengthAdjust="spacingAndGlyphs">80</text>
<text x="340.80" y="304.90" font-size="10.89" fill="#1d1d26" stroke="#1d1d26" stroke-width="0.25" textLength="16.48" lengthAdjust="spacingAndGlyphs">210</text>
<text transform="translate(335.90,298.90) rotate(-90)" x="-0.51" y="0" font-size="11.73" fill="#1d1d26" stroke="#1d1d26" stroke-width="0.25" textLength="12.96" lengthAdjust="spacingAndGlyphs">80</text>
<text transform="translate(335.90,270.30) rotate(-90)" x="-0.50" y="0" font-size="12.15" fill="#1d1d26" stroke="#1d1d26" stroke-width="0.25" textLength="13.93" lengthAdjust="spacingAndGlyphs">55</text>
<text transform="translate(336.90,355.30) rotate(-90)" x="-0.94" y="0" font-size="12.43" fill="#1d1d26" stroke="#1d1d26" stroke-width="0.25" textLength="20.66" lengthAdjust="spacingAndGlyphs">165</text>
<text transform="translate(336.20,398.00) rotate(-90)" x="-0.43" y="0" font-size="12.57" fill="#1d1d26" stroke="#1d1d26" stroke-width="0.25" textLength="11.84" lengthAdjust="spacingAndGlyphs">50</text>
<line x1="337.5" y1="248.4" x2="337.5" y2="410" stroke="#111" stroke-width="1" />
<line x1="334.5" y1="248.5" x2="340.5" y2="248.5" stroke="#111" stroke-width="1" />
<line x1="335.2" y1="246.1" x2="339.8" y2="250.70000000000002" stroke="#111" stroke-width="1" />
<line x1="334.5" y1="252.5" x2="340.5" y2="252.5" stroke="#111" stroke-width="1" />
<line x1="335.2" y1="250.0" x2="339.8" y2="254.60000000000002" stroke="#111" stroke-width="1" />
<line x1="334.5" y1="277.5" x2="340.5" y2="277.5" stroke="#111" stroke-width="1" />
<line x1="335.2" y1="275.0" x2="339.8" y2="279.6" stroke="#111" stroke-width="1" />
<line x1="334.5" y1="309.5" x2="340.5" y2="309.5" stroke="#111" stroke-width="1" />
<line x1="335.2" y1="306.7" x2="339.8" y2="311.3" stroke="#111" stroke-width="1" />
<line x1="334.5" y1="382.5" x2="340.5" y2="382.5" stroke="#111" stroke-width="1" />
<line x1="335.2" y1="380.2" x2="339.8" y2="384.8" stroke="#111" stroke-width="1" />
<line x1="334.5" y1="403.5" x2="340.5" y2="403.5" stroke="#111" stroke-width="1" />
<line x1="335.2" y1="401.2" x2="339.8" y2="405.8" stroke="#111" stroke-width="1" />
<text x="290.22" y="319.60" font-size="11.25" font-weight="bold" fill="#0d0d14" stroke="#0d0d14" stroke-width="0.25" textLength="51.55" lengthAdjust="spacingAndGlyphs">KUPAONA</text>
<text x="298.73" y="330.30" font-size="10.75" fill="#1d1d26" stroke="#1d1d26" stroke-width="0.25" textLength="28.28" lengthAdjust="spacingAndGlyphs">5,40 m</text>
<text x="326.36" y="327.40" font-size="7.40" fill="#1d1d26" stroke="#1d1d26" stroke-width="0.25" textLength="5.98" lengthAdjust="spacingAndGlyphs">2</text>
<text x="288.71" y="378.75" font-size="10.27" fill="#1d1d26" stroke="#1d1d26" stroke-width="0.25" textLength="28.51" lengthAdjust="spacingAndGlyphs">P=.80</text>
<rect x="350.5" y="312.5" width="27.0" height="35.0" stroke="#111" stroke-width="1" fill="none" />
<line x1="350.8" y1="312.4" x2="377" y2="347.3" stroke="#111" stroke-width="1" />
<line x1="350.8" y1="347.3" x2="377" y2="312.4" stroke="#111" stroke-width="1" />
<rect x="350.5" y="347.5" width="27.0" height="35.0" stroke="#111" stroke-width="1" fill="none" />
<line x1="350.8" y1="347.3" x2="377" y2="382.5" stroke="#111" stroke-width="1" />
<line x1="350.8" y1="382.5" x2="377" y2="347.3" stroke="#111" stroke-width="1" />
<line x1="372.5" y1="252.3" x2="372.5" y2="287.4" stroke="#111" stroke-width="1" />
<path d="M 372.6 287.4 A 36.4 36.4 0 0 0 409 251" stroke="#222" stroke-width="1.1" fill="none" />
<line x1="389.5" y1="242.9" x2="389.5" y2="282.5" stroke="#111" stroke-width="1" />
<text transform="translate(386.90,272.80) rotate(-90)" x="-0.52" y="0" font-size="12.29" fill="#1d1d26" stroke="#1d1d26" stroke-width="0.25" textLength="12.35" lengthAdjust="spacingAndGlyphs">90</text>
<text transform="translate(401.80,272.80) rotate(-90)" x="-0.56" y="0" font-size="12.29" fill="#1d1d26" stroke="#1d1d26" stroke-width="0.25" textLength="18.49" lengthAdjust="spacingAndGlyphs">210</text>
<polyline points="418.5,248.5 418.5,230.5 524.5,230.5" stroke="#111" stroke-width="1" fill="none" />
<rect x="446.5" y="236.5" width="51.0" height="3.0" stroke="#333" stroke-width="0.9" fill="none" />
<path d="M 446.3 239.5 Q 471.6 249.2 497 239.5" stroke="#333" stroke-width="0.9" fill="none" />
<ellipse cx="471.6" cy="237.6" rx="9" ry="6.9" stroke="#333" stroke-width="0.9" fill="none"/>
<line x1="463.5" y1="241.5" x2="479.7" y2="241.5" stroke="#444" stroke-width="0.8" />
<line x1="483.2" y1="238.5" x2="493.8" y2="238.5" stroke="#333" stroke-width="1.6" />
<rect x="407.5" y="286.5" width="86.0" height="96.0" stroke="#111" stroke-width="1.1" fill="none" />
<line x1="409.3" y1="288.5" x2="491.8" y2="288.5" stroke="#111" stroke-width="1" />
<line x1="409.5" y1="288.5" x2="409.5" y2="382.5" stroke="#111" stroke-width="1" />
<line x1="491.5" y1="288.5" x2="491.5" y2="382.5" stroke="#111" stroke-width="1" />
<rect x="409.5" y="362.5" width="38.0" height="17.0" stroke="#111" stroke-width="1" fill="none" />
<rect x="453.5" y="362.5" width="38.0" height="17.0" stroke="#111" stroke-width="1" fill="none" />
<polyline points="409.3,355.3 416.5,355.3 416.5,362 409.3,355.3" stroke="#111" stroke-width="1" fill="none" />
<polyline points="491.8,355.3 484.5,355.3 484.5,362 491.8,355.3" stroke="#111" stroke-width="1" fill="none" />
<rect x="392.5" y="369.5" width="15.0" height="13.0" stroke="#111" stroke-width="1" fill="none" />
<rect x="493.5" y="369.5" width="16.0" height="13.0" stroke="#111" stroke-width="1" fill="none" />
<text x="439.02" y="319.70" font-size="11.25" font-weight="bold" fill="#0d0d14" stroke="#0d0d14" stroke-width="0.25" textLength="35.97" lengthAdjust="spacingAndGlyphs">SOBA 2</text>
<text x="437.35" y="330.60" font-size="10.75" fill="#1d1d26" stroke="#1d1d26" stroke-width="0.25" textLength="35.50" lengthAdjust="spacingAndGlyphs">12,00 m</text>
<text x="472.20" y="327.30" font-size="7.40" fill="#1d1d26" stroke="#1d1d26" stroke-width="0.25" textLength="4.39" lengthAdjust="spacingAndGlyphs">2</text>
<text x="450.78" y="378.70" font-size="9.78" fill="#1d1d26" stroke="#1d1d26" stroke-width="0.25" textLength="29.66" lengthAdjust="spacingAndGlyphs">P=.80</text>
<line x1="465.5" y1="377" x2="465.5" y2="440.4" stroke="#111" stroke-width="1" />
<text transform="translate(462.50,430.60) rotate(-90)" x="-0.79" y="0" font-size="11.87" fill="#1d1d26" stroke="#1d1d26" stroke-width="0.25" textLength="17.40" lengthAdjust="spacingAndGlyphs">120</text>
<text transform="translate(477.60,431.00) rotate(-90)" x="-0.54" y="0" font-size="12.43" fill="#1d1d26" stroke="#1d1d26" stroke-width="0.25" textLength="17.96" lengthAdjust="spacingAndGlyphs">210</text>
<line x1="303.5" y1="376.8" x2="303.5" y2="440.4" stroke="#111" stroke-width="1" />
<text transform="translate(299.50,430.30) rotate(-90)" x="-0.80" y="0" font-size="10.75" fill="#1d1d26" stroke="#1d1d26" stroke-width="0.25" textLength="17.51" lengthAdjust="spacingAndGlyphs">120</text>
<text transform="translate(315.20,431.00) rotate(-90)" x="-0.56" y="0" font-size="11.03" fill="#1d1d26" stroke="#1d1d26" stroke-width="0.25" textLength="18.49" lengthAdjust="spacingAndGlyphs">210</text>
<rect x="151.5" y="382.5" width="2.0" height="4.0" stroke="#111" stroke-width="0.8" fill="none" />
<line x1="153.5" y1="386.5" x2="153.5" y2="421.6" stroke="#111" stroke-width="1" />
<path d="M 153.5 421.6 A 36 36 0 0 0 189.5 386.5" stroke="#222" stroke-width="1.1" fill="none" />
<polyline points="169.4,382 169.4,403.6 151.8,403.6" stroke="#7a1fe6" stroke-width="1.1" fill="none" stroke-dasharray="6,2,1,2"/>
<line x1="171.5" y1="349.9" x2="171.5" y2="390.8" stroke="#111" stroke-width="1" />
<text transform="translate(168.00,373.90) rotate(-90)" x="-0.55" y="0" font-size="12.71" fill="#1d1d26" stroke="#1d1d26" stroke-width="0.25" textLength="13.00" lengthAdjust="spacingAndGlyphs">90</text>
<text transform="translate(183.90,380.10) rotate(-90)" x="-0.58" y="0" font-size="12.71" fill="#1d1d26" stroke="#1d1d26" stroke-width="0.25" textLength="19.23" lengthAdjust="spacingAndGlyphs">210</text>
<rect x="208.5" y="403.5" width="39.0" height="173.0" stroke="#111" stroke-width="1.1" fill="none" />
<line x1="208.5" y1="386.3" x2="208.5" y2="403.5" stroke="#111" stroke-width="1.1" />
<line x1="209.5" y1="422.5" x2="209.5" y2="557.3" stroke="#111" stroke-width="1.1" />
<rect x="210.5" y="406.5" width="34.0" height="16.0" stroke="#111" stroke-width="1" fill="none" />
<rect x="210.5" y="557.5" width="34.0" height="17.0" stroke="#111" stroke-width="1" fill="none" />
<line x1="245.5" y1="430.5" x2="245.5" y2="550.5" stroke="#111" stroke-width="1" />
<polyline points="237.6,422.5 237.6,430.5 245.5,430.5 237.6,422.5" stroke="#111" stroke-width="1" fill="none" />
<polyline points="237.6,557.3 237.6,550.5 245.5,550.5 237.6,557.3" stroke="#111" stroke-width="1" fill="none" />
<line x1="208.5" y1="488.5" x2="247.5" y2="488.5" stroke="#111" stroke-width="1" />
<line x1="208.5" y1="490.5" x2="247.5" y2="490.5" stroke="#111" stroke-width="1" />
<text transform="translate(243.90,511.80) rotate(-90)" x="-0.87" y="0" font-size="10.89" fill="#1d1d26" stroke="#1d1d26" stroke-width="0.25" textLength="27.93" lengthAdjust="spacingAndGlyphs">P= 78</text>
<line x1="242.6" y1="498.5" x2="300" y2="498.5" stroke="#111" stroke-width="1" />
<text x="271.70" y="495.20" font-size="11.59" fill="#1d1d26" stroke="#1d1d26" stroke-width="0.25" textLength="17.61" lengthAdjust="spacingAndGlyphs">330</text>
<text x="271.56" y="511.20" font-size="11.59" fill="#1d1d26" stroke="#1d1d26" stroke-width="0.25" textLength="17.78" lengthAdjust="spacingAndGlyphs">205</text>
<line x1="281.5" y1="403.5" x2="281.5" y2="633.5" stroke="#111" stroke-width="1.2" stroke-dasharray="6.5,3"/>
<line x1="268.5" y1="633.5" x2="281.6" y2="633.5" stroke="#111" stroke-width="1.2" stroke-dasharray="6.5,3"/>
<line x1="117.5" y1="465" x2="117.5" y2="633.7" stroke="#111" stroke-width="1.2" stroke-dasharray="6.5,3"/>
<line x1="117.6" y1="633.5" x2="131" y2="633.5" stroke="#111" stroke-width="1.2" stroke-dasharray="6.5,3"/>
<text x="161.82" y="510.80" font-size="11.66" font-weight="bold" fill="#0d0d14" stroke="#0d0d14" stroke-width="0.25" textLength="36.25" lengthAdjust="spacingAndGlyphs">SOBA 1</text>
<text x="160.12" y="521.80" font-size="11.87" fill="#1d1d26" stroke="#1d1d26" stroke-width="0.25" textLength="37.16" lengthAdjust="spacingAndGlyphs">11,28 m</text>
<text x="196.50" y="518.00" font-size="7.68" fill="#1d1d26" stroke="#1d1d26" stroke-width="0.25" textLength="5.49" lengthAdjust="spacingAndGlyphs">2</text>
<rect x="151.5" y="585.5" width="48.0" height="26.0" stroke="#111" stroke-width="1" fill="none" />
<line x1="151.5" y1="585.7" x2="199.5" y2="611.4" stroke="#111" stroke-width="1" />
<line x1="151.5" y1="611.4" x2="199.5" y2="585.7" stroke="#111" stroke-width="1" />
<rect x="199.5" y="585.5" width="48.0" height="26.0" stroke="#111" stroke-width="1" fill="none" />
<line x1="199.5" y1="585.7" x2="247.5" y2="611.4" stroke="#111" stroke-width="1" />
<line x1="199.5" y1="611.4" x2="247.5" y2="585.7" stroke="#111" stroke-width="1" />
<line x1="104.8" y1="501.5" x2="130.6" y2="501.5" stroke="#111" stroke-width="1" />
<path d="M 104.8 501.5 A 33.7 33.7 0 0 0 138.5 535.3" stroke="#222" stroke-width="1.1" fill="none" />
<line x1="104.8" y1="569.5" x2="130.6" y2="569.5" stroke="#111" stroke-width="1" />
<path d="M 104.8 569.6 A 33.7 33.7 0 0 1 138.5 535.3" stroke="#222" stroke-width="1.1" fill="none" />
<line x1="71.2" y1="603.5" x2="84.2" y2="603.5" stroke="#111" stroke-width="1" />
<polyline points="84.5,474.5 84.5,686.5 124.5,686.5 124.5,792.5 249.5,792.5 249.5,633.5" stroke="#787878" stroke-width="1" fill="none" />
<polyline points="88.5,474.5 88.5,682.5 129.5,682.5 129.5,788.5 244.5,788.5 244.5,633.5" stroke="#787878" stroke-width="1" fill="none" />
<polyline points="86.5,474.5 86.5,684.5 126.5,684.5 126.5,790.5 247.5,790.5 247.5,633.5" stroke="#999" stroke-width="0.8" fill="none" stroke-dasharray="12,3,1,3"/>
<text x="166.19" y="747.70" font-size="11.52" font-weight="bold" fill="#0d0d14" stroke="#0d0d14" stroke-width="0.25" textLength="40.97" lengthAdjust="spacingAndGlyphs">TERASA</text>
<text x="166.83" y="758.90" font-size="11.87" fill="#1d1d26" stroke="#1d1d26" stroke-width="0.25" textLength="36.74" lengthAdjust="spacingAndGlyphs">14,15 m</text>
<text x="202.94" y="754.90" font-size="7.54" fill="#1d1d26" stroke="#1d1d26" stroke-width="0.25" textLength="4.03" lengthAdjust="spacingAndGlyphs">2</text>
<polyline points="268.5,579.8 334,575.3 462,573.8 605,572.2 616,570.5" stroke="#777" stroke-width="1" fill="none" />
<line x1="71" y1="667.5" x2="549.5" y2="667.5" stroke="#111" stroke-width="1" />
<line x1="71" y1="689.5" x2="549.5" y2="689.5" stroke="#111" stroke-width="1" />
<line x1="71" y1="711.5" x2="549.5" y2="711.5" stroke="#111" stroke-width="1" />
<line x1="130.5" y1="663.3" x2="130.5" y2="671.7" stroke="#111" stroke-width="1" />
<line x1="127.50000000000001" y1="670.3" x2="133.10000000000002" y2="664.7" stroke="#111" stroke-width="1" />
<line x1="151.5" y1="663.3" x2="151.5" y2="671.7" stroke="#111" stroke-width="1" />
<line x1="148.6" y1="670.3" x2="154.20000000000002" y2="664.7" stroke="#111" stroke-width="1" />
<line x1="247.5" y1="663.3" x2="247.5" y2="671.7" stroke="#111" stroke-width="1" />
<line x1="244.6" y1="670.3" x2="250.20000000000002" y2="664.7" stroke="#111" stroke-width="1" />
<line x1="268.5" y1="663.3" x2="268.5" y2="671.7" stroke="#111" stroke-width="1" />
<line x1="265.59999999999997" y1="670.3" x2="271.2" y2="664.7" stroke="#111" stroke-width="1" />
<line x1="346.5" y1="663.3" x2="346.5" y2="671.7" stroke="#111" stroke-width="1" />
<line x1="343.59999999999997" y1="670.3" x2="349.2" y2="664.7" stroke="#111" stroke-width="1" />
<line x1="350.5" y1="663.3" x2="350.5" y2="671.7" stroke="#111" stroke-width="1" />
<line x1="347.8" y1="670.3" x2="353.40000000000003" y2="664.7" stroke="#111" stroke-width="1" />
<line x1="524.5" y1="663.3" x2="524.5" y2="671.7" stroke="#111" stroke-width="1" />
<line x1="521.2" y1="670.3" x2="526.8" y2="664.7" stroke="#111" stroke-width="1" />
<line x1="545.5" y1="663.3" x2="545.5" y2="671.7" stroke="#111" stroke-width="1" />
<line x1="542.5" y1="670.3" x2="548.0999999999999" y2="664.7" stroke="#111" stroke-width="1" />
<line x1="129.5" y1="685.3" x2="129.5" y2="693.7" stroke="#111" stroke-width="1" />
<line x1="126.7" y1="692.3" x2="132.3" y2="686.7" stroke="#111" stroke-width="1" />
<line x1="268.5" y1="685.3" x2="268.5" y2="693.7" stroke="#111" stroke-width="1" />
<line x1="265.59999999999997" y1="692.3" x2="271.2" y2="686.7" stroke="#111" stroke-width="1" />
<line x1="545.5" y1="685.3" x2="545.5" y2="693.7" stroke="#111" stroke-width="1" />
<line x1="542.5" y1="692.3" x2="548.0999999999999" y2="686.7" stroke="#111" stroke-width="1" />
<line x1="545.5" y1="707.0999999999999" x2="545.5" y2="715.5" stroke="#111" stroke-width="1" />
<line x1="542.5" y1="714.0999999999999" x2="548.0999999999999" y2="708.5" stroke="#111" stroke-width="1" />
<text x="72.88" y="665.90" font-size="12.15" fill="#1d1d26" stroke="#1d1d26" stroke-width="0.25" textLength="20.64" lengthAdjust="spacingAndGlyphs">215</text>
<text x="133.70" y="666.00" font-size="12.15" fill="#1d1d26" stroke="#1d1d26" stroke-width="0.25" textLength="14.00" lengthAdjust="spacingAndGlyphs">50</text>
<text x="188.59" y="665.90" font-size="12.15" fill="#1d1d26" stroke="#1d1d26" stroke-width="0.25" textLength="20.08" lengthAdjust="spacingAndGlyphs">220</text>
<text x="251.21" y="666.00" font-size="11.73" fill="#1d1d26" stroke="#1d1d26" stroke-width="0.25" textLength="13.67" lengthAdjust="spacingAndGlyphs">50</text>
<text x="291.34" y="666.00" font-size="12.01" fill="#1d1d26" stroke="#1d1d26" stroke-width="0.25" textLength="18.91" lengthAdjust="spacingAndGlyphs">180</text>
<text x="330.83" y="666.00" font-size="12.29" fill="#1d1d26" stroke="#1d1d26" stroke-width="0.25" textLength="14.17" lengthAdjust="spacingAndGlyphs">10</text>
<text x="426.81" y="666.00" font-size="12.15" fill="#1d1d26" stroke="#1d1d26" stroke-width="0.25" textLength="20.77" lengthAdjust="spacingAndGlyphs">400</text>
<text x="527.70" y="666.00" font-size="12.15" fill="#1d1d26" stroke="#1d1d26" stroke-width="0.25" textLength="14.00" lengthAdjust="spacingAndGlyphs">50</text>
<text x="188.75" y="688.10" font-size="12.43" fill="#1d1d26" stroke="#1d1d26" stroke-width="0.25" textLength="19.92" lengthAdjust="spacingAndGlyphs">320</text>
<text x="396.37" y="688.00" font-size="12.15" fill="#1d1d26" stroke="#1d1d26" stroke-width="0.25" textLength="20.61" lengthAdjust="spacingAndGlyphs">640</text>
</svg></body></html>
